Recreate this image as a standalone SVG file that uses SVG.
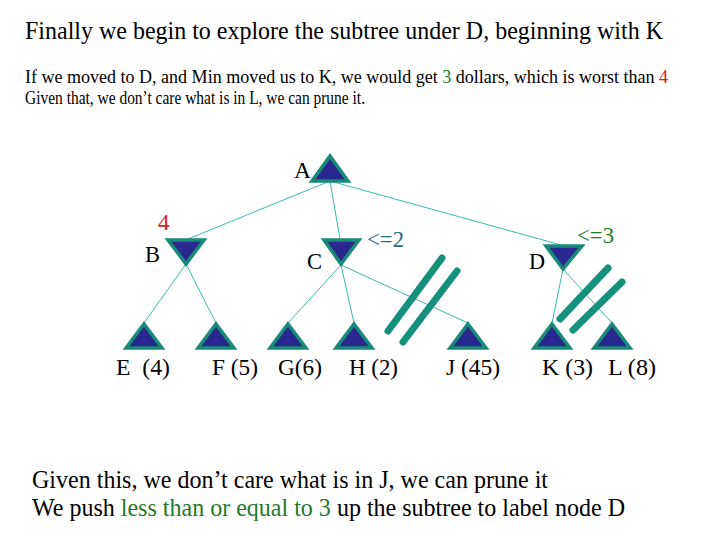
<svg xmlns="http://www.w3.org/2000/svg" width="720" height="540" viewBox="0 0 720 540" font-family="'Liberation Serif', 'Times New Roman', serif">
<style>
text,tspan{font-family:"Liberation Serif","Times New Roman",serif}
text{fill:#000}
.h{font-size:26px}
.t{font-size:23px}
.n{font-size:24px}
.s{font-size:18px}
.g{fill:#1e7a2a}
.r{fill:#d42020}
.b2{fill:#2a6888}
.node{fill:#28288e;stroke:#1a8a78;stroke-width:3.5;stroke-linejoin:miter}
.edge{stroke:#3cb8b0;stroke-width:1;fill:none}
.prune{stroke:#15907a;stroke-width:7;stroke-linecap:round}
</style>
<rect width="720" height="540" fill="#fff"/>
<text class="h" x="25" y="39" textLength="638" lengthAdjust="spacingAndGlyphs">Finally we begin to explore the subtree under D, beginning with K</text>
<text class="s" x="25" y="83" textLength="643" lengthAdjust="spacingAndGlyphs">If we moved to D, and Min moved us to K, we would get <tspan class="g">3</tspan> dollars, which is worst than <tspan class="r">4</tspan></text>
<text class="s" x="25" y="104" textLength="340" lengthAdjust="spacingAndGlyphs">Given that, we don’t care what is in L, we can prune it.</text>
<g id="connectors">
<line class="edge" x1="330" y1="181" x2="188" y2="239"/>
<line class="edge" x1="330" y1="181" x2="340" y2="239"/>
<line class="edge" x1="330" y1="181" x2="561" y2="245"/>
<line class="edge" x1="186" y1="264" x2="144" y2="323"/>
<line class="edge" x1="186" y1="264" x2="216" y2="323"/>
<line class="edge" x1="341" y1="265" x2="288" y2="323"/>
<line class="edge" x1="341" y1="265" x2="354" y2="323"/>
<line class="edge" x1="341" y1="265" x2="468" y2="323"/>
<line class="edge" x1="563" y1="269" x2="552" y2="323"/>
<line class="edge" x1="563" y1="269" x2="612" y2="323"/>
</g>
<g id="A"><polygon class="node" points="330,156 348,181 312,181"/><text class="n" x="294" y="178" textLength="17" lengthAdjust="spacingAndGlyphs">A</text></g>
<g id="B"><polygon class="node" points="168,240 204,240 186,264"/><text class="n" x="145" y="262" textLength="15" lengthAdjust="spacingAndGlyphs">B</text><text class="t r" x="158" y="230">4</text></g>
<g id="C"><polygon class="node" points="324,240 359,240 341,264"/><text class="n" x="307" y="269" textLength="15" lengthAdjust="spacingAndGlyphs">C</text><text class="t b2" x="367" y="247" textLength="37" lengthAdjust="spacingAndGlyphs">&lt;=2</text></g>
<g id="D"><polygon class="node" points="546,246 582,246 563,269"/><text class="n" x="529" y="269" textLength="16" lengthAdjust="spacingAndGlyphs">D</text><text class="t g" x="577" y="243" textLength="37" lengthAdjust="spacingAndGlyphs">&lt;=3</text></g>
<g id="E"><polygon class="node" points="144,324 162,348 126,348"/><text class="t" x="116" y="375" xml:space="preserve" textLength="54" lengthAdjust="spacingAndGlyphs">E  (4)</text></g>
<g id="F"><polygon class="node" points="216,324 234,348 198,348"/><text class="t" x="212" y="375" textLength="46" lengthAdjust="spacingAndGlyphs">F (5)</text></g>
<g id="G"><polygon class="node" points="288,324 306,348 270,348"/><text class="t" x="278" y="375" textLength="44" lengthAdjust="spacingAndGlyphs">G(6)</text></g>
<g id="H"><polygon class="node" points="354,324 372,348 336,348"/><text class="t" x="349" y="375" textLength="49" lengthAdjust="spacingAndGlyphs">H (2)</text></g>
<g id="J"><polygon class="node" points="468,324 486,348 450,348"/><text class="t" x="446" y="375" textLength="54" lengthAdjust="spacingAndGlyphs">J (45)</text></g>
<g id="K"><polygon class="node" points="552,324 570,348 534,348"/><text class="t" x="542" y="375" textLength="51" lengthAdjust="spacingAndGlyphs">K (3)</text></g>
<g id="L"><polygon class="node" points="612,324 630,348 594,348"/><text class="t" x="608" y="375" textLength="48" lengthAdjust="spacingAndGlyphs">L (8)</text></g>
<g id="prune-marks">
<line class="prune" x1="442" y1="258" x2="388" y2="331"/>
<line class="prune" x1="457" y1="271" x2="403" y2="342"/>
<line class="prune" x1="608" y1="268" x2="560" y2="319"/>
<line class="prune" x1="622" y1="282" x2="573" y2="330"/>
</g>
<text class="h" x="32" y="488" textLength="516" lengthAdjust="spacingAndGlyphs">Given this, we don’t care what is in J, we can prune it</text>
<text class="h" x="32" y="516" textLength="593" lengthAdjust="spacingAndGlyphs">We push <tspan class="g">less than or equal to 3</tspan> up the subtree to label node D</text>
</svg>
